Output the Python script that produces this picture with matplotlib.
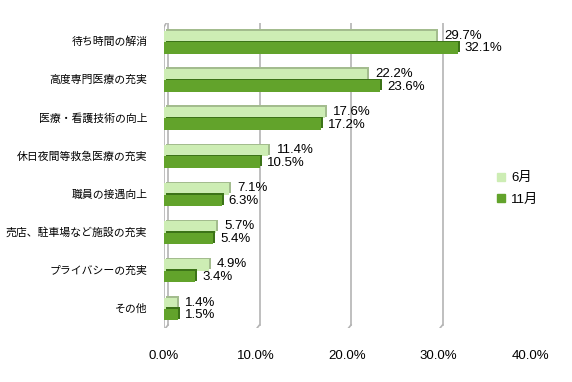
import matplotlib
matplotlib.use("Agg")
import matplotlib.pyplot as plt
import matplotlib.transforms as mtransforms
from matplotlib.patches import Patch

plt.rcParams["font.family"] = ["Liberation Sans", "Noto Sans CJK JP"]

categories = [
    "待ち時間の解消",
    "高度専門医療の充実",
    "医療・看護技術の向上",
    "休日夜間等救急医療の充実",
    "職員の接遇向上",
    "売店、駐車場など施設の充実",
    "プライバシーの充実",
    "その他",
]
june = [29.7, 22.2, 17.6, 11.4, 7.1, 5.7, 4.9, 1.4]
nov = [32.1, 23.6, 17.2, 10.5, 6.3, 5.4, 3.4, 1.5]
series_names = ["6月", "11月"]
xticks = [0, 10, 20, 30, 40]
xtick_labels = ["0.0%", "10.0%", "20.0%", "30.0%", "40.0%"]

light = "#CDEDB4"
light_side = "#A3BC8E"
dark = "#62A32B"
dark_side = "#3C7318"
grid_color = "#B4B4B4"

fig = plt.figure(figsize=(5.72, 3.82), dpi=100)
ax = fig.add_axes([164 / 572, 54 / 382, 366 / 572, 305 / 382])
ax.set_xlim(0, 40)
ax.set_ylim(len(categories) - 0.5, -0.5)
ax.axis("off")

back = mtransforms.offset_copy(ax.transData, fig=fig, x=4, y=3, units="dots")
depth = mtransforms.offset_copy(ax.transData, fig=fig, x=2, y=1.5, units="dots")
lift = mtransforms.offset_copy(ax.transData, fig=fig, x=0, y=-2, units="dots")

# pseudo-3D gridlines (back wall + floor diagonal)
ybot = len(categories) - 0.5
for t in xticks:
    ax.plot([t, t], [ybot, -0.5], color=grid_color, lw=1.2, transform=back, zorder=1)
    x0, y0 = back.transform((t, ybot))
    x1, y1 = lift.transform((t, ybot))
    ax.plot([x0, x1], [y0, y1], color=grid_color, lw=1.2,
            transform=None, zorder=1)
# left wall front edge
ax.plot([0, 0], [ybot, -0.45], color=grid_color, lw=1.2, transform=lift, zorder=1)
x0, y0 = back.transform((0, -0.5))
x1, y1 = lift.transform((0, -0.45))
ax.plot([x0, x1], [y0, y1], color=grid_color, lw=1.2, transform=None, zorder=1)

ypos = list(range(len(categories)))
h = 0.3
y_june = [y - h / 2 for y in ypos]
y_nov = [y + h / 2 for y in ypos]

ax.barh(y_june, june, height=h, color=light_side, lw=0, transform=depth, zorder=2)
ax.barh(y_june, june, height=h, color=light, lw=0, zorder=3)
ax.barh(y_nov, nov, height=h, color=dark_side, lw=0, transform=depth, zorder=4)
ax.barh(y_nov, nov, height=h, color=dark, lw=0, zorder=5)

for y, v in zip(y_june, june):
    ax.annotate(f"{v:.1f}%", (v, y), xytext=(6, 0.5), textcoords="offset points",
                va="center", ha="left", fontsize=9.5, color="black", zorder=6)
for y, v in zip(y_nov, nov):
    ax.annotate(f"{v:.1f}%", (v, y), xytext=(5, -0.5), textcoords="offset points",
                va="center", ha="left", fontsize=9.5, color="black", zorder=6)

for y, c in zip(ypos, categories):
    ax.annotate(c, (0, y), xytext=(-12, 0), textcoords="offset points",
                va="center", ha="right", fontsize=7.8,
                family=["Noto Sans CJK JP"])

for t, lab in zip(xticks, xtick_labels):
    ax.annotate(lab, (t, ybot), xytext=(0, -20), textcoords="offset points",
                va="center", ha="center", fontsize=9.5)

handles = [Patch(color=light), Patch(color=dark)]
fig.legend(handles, series_names, loc="center left",
           bbox_to_anchor=(485 / 572, 1 - 189 / 382), frameon=False,
           fontsize=9.5, handlelength=0.6, handleheight=0.6,
           handletextpad=0.5, labelspacing=0.7)

fig.savefig("out.png", dpi=100)
